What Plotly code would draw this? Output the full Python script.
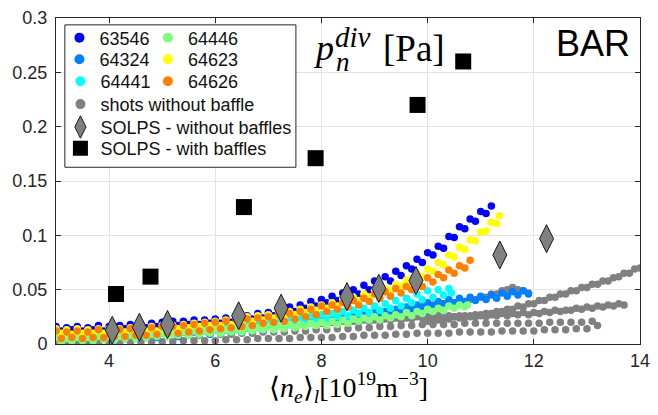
import plotly.graph_objects as go

# ------------------------------------------------------------------
# Data  (x = <n_e>_l [1e19 m^-3], y = p_n^div [Pa])
# ------------------------------------------------------------------
SHOT_NAMES = ["63546", "64324", "64441", "64446", "64623", "64626"]

P63546 = [(3.0,.016),(3.1,.012),(3.2,.015),(3.3,.013),(3.4,.016),(3.5,.012),(3.6,.015),(3.7,.013),(3.8,.017),(3.9,.012),
          (4.0,.016),(4.1,.013),(4.2,.017),(4.3,.014),(4.4,.018),(4.5,.014),(4.6,.018),(4.7,.015),(4.8,.019),(4.9,.016),
          (5.0,.020),(5.1,.016),(5.2,.021),(5.3,.017),(5.4,.021),(5.5,.018),(5.6,.022),(5.7,.018),(5.8,.022),(5.9,.019),
          (6.0,.023),(6.1,.019),(6.2,.024),(6.3,.020),(6.4,.025),(6.5,.021),(6.6,.026),(6.7,.023),(6.8,.028),(6.9,.024),
          (7.0,.029),(7.1,.026),(7.2,.031),(7.3,.028),(7.4,.034),(7.5,.030),(7.6,.036),(7.7,.033),(7.8,.039),(7.9,.035),
          (8.0,.041),(8.1,.038),(8.2,.044),(8.3,.040),(8.4,.047),(8.5,.043),(8.6,.050),(8.7,.046),(8.8,.054),(8.9,.050),
          (9.0,.058),(9.1,.054),(9.2,.062),(9.3,.058),(9.4,.067),(9.5,.063),(9.6,.072),(9.7,.069),(9.8,.078),(9.9,.075),
          (10.0,.084),(10.1,.082),(10.2,.090),(10.3,.088),(10.4,.099),(10.5,.098),(10.6,.108),(10.7,.106),(10.8,.115),(10.9,.113),
          (11.0,.122),(11.1,.120),(11.2,.127)]

P64324 = [(4.0,.007),(4.1,.004),(4.2,.007),(4.3,.005),(4.4,.008),(4.5,.005),(4.6,.008),(4.7,.006),(4.8,.009),(4.9,.006),
          (5.0,.010),(5.1,.007),(5.2,.010),(5.3,.007),(5.4,.011),(5.5,.008),(5.6,.011),(5.7,.009),(5.8,.012),(5.9,.009),
          (6.0,.013),(6.1,.010),(6.2,.013),(6.3,.011),(6.4,.014),(6.5,.011),(6.6,.015),(6.7,.012),(6.8,.016),(6.9,.013),
          (7.0,.017),(7.1,.014),(7.2,.017),(7.3,.015),(7.4,.018),(7.5,.016),(7.6,.019),(7.7,.017),(7.8,.021),(7.9,.018),
          (8.0,.022),(8.1,.019),(8.2,.023),(8.3,.020),(8.4,.024),(8.5,.022),(8.6,.026),(8.7,.023),(8.8,.027),(8.9,.025),
          (9.0,.029),(9.1,.026),(9.2,.030),(9.3,.028),(9.4,.032),(9.5,.030),(9.6,.034),(9.7,.032),(9.8,.036),(9.9,.034),
          (10.0,.038),(10.1,.035),(10.2,.039),(10.3,.037),(10.4,.041),(10.5,.038),(10.6,.042),(10.7,.039),(10.8,.043),(10.9,.040),
          (11.0,.044),(11.1,.041),(11.2,.045),(11.3,.042),(11.4,.047),(11.5,.044),(11.6,.048),(11.7,.045),(11.8,.049),(11.9,.046)]

P64441 = [(3.0,.009),(3.1,.005),(3.2,.008),(3.3,.005),(3.4,.009),(3.5,.006),(3.6,.009),(3.7,.006),(3.8,.010),(3.9,.006),
          (4.0,.010),(4.1,.007),(4.2,.010),(4.3,.007),(4.4,.011),(4.5,.007),(4.6,.011),(4.7,.008),(4.8,.012),(4.9,.008),
          (5.0,.012),(5.1,.009),(5.2,.013),(5.3,.009),(5.4,.013),(5.5,.010),(5.6,.014),(5.7,.011),(5.8,.015),(5.9,.011),
          (6.0,.015),(6.1,.012),(6.2,.016),(6.3,.013),(6.4,.017),(6.5,.013),(6.6,.018),(6.7,.014),(6.8,.019),(6.9,.016),
          (7.0,.020),(7.1,.017),(7.2,.021),(7.3,.018),(7.4,.023),(7.5,.019),(7.6,.024),(7.7,.021),(7.8,.026),(7.9,.022),
          (8.0,.027),(8.1,.023),(8.2,.028),(8.3,.025),(8.4,.030),(8.5,.026),(8.6,.031),(8.7,.028),(8.8,.033),(8.9,.029),
          (9.0,.035),(9.1,.031),(9.2,.037),(9.3,.033),(9.4,.040),(9.5,.035),(9.6,.042),(9.7,.038),(9.8,.046),(9.9,.041),
          (10.0,.049),(10.1,.043),(10.2,.050),(10.3,.045),(10.4,.051),(10.45,.047)]

P64446 = [(3.0,.006),(3.1,.002),(3.2,.005),(3.3,.003),(3.4,.006),(3.5,.003),(3.6,.006),(3.7,.003),(3.8,.007),(3.9,.004),
          (4.0,.007),(4.1,.004),(4.2,.007),(4.3,.005),(4.4,.008),(4.5,.005),(4.6,.009),(4.7,.006),(4.8,.009),(4.9,.007),
          (5.0,.010),(5.1,.007),(5.2,.010),(5.3,.008),(5.4,.011),(5.5,.008),(5.6,.012),(5.7,.009),(5.8,.012),(5.9,.010),
          (6.0,.013),(6.1,.010),(6.2,.013),(6.3,.011),(6.4,.014),(6.5,.011),(6.6,.015),(6.7,.012),(6.8,.015),(6.9,.013),
          (7.0,.016),(7.1,.013),(7.2,.017),(7.3,.014),(7.4,.018),(7.5,.015),(7.6,.018),(7.7,.016),(7.8,.019),(7.9,.017),
          (8.0,.020),(8.1,.017),(8.2,.021),(8.3,.018),(8.4,.022),(8.5,.019),(8.6,.023),(8.7,.021),(8.8,.024),(8.9,.022),
          (9.0,.025),(9.1,.022),(9.2,.026),(9.3,.024),(9.4,.027),(9.5,.025),(9.6,.029),(9.7,.026),(9.8,.030),(9.9,.028),
          (10.0,.032),(10.1,.030),(10.2,.033),(10.3,.031),(10.4,.035),(10.5,.033),(10.6,.036),(10.7,.034),(10.75,.036)]

P64623 = [(3.0,.014),(3.1,.010),(3.2,.013),(3.3,.009),(3.4,.014),(3.5,.010),(3.6,.013),(3.7,.010),(3.8,.014),(3.9,.010),
          (4.0,.014),(4.1,.010),(4.2,.014),(4.3,.011),(4.4,.015),(4.5,.011),(4.6,.015),(4.7,.012),(4.8,.016),(4.9,.012),
          (5.0,.017),(5.1,.013),(5.2,.017),(5.3,.014),(5.4,.018),(5.5,.015),(5.6,.019),(5.7,.016),(5.8,.020),(5.9,.017),
          (6.0,.021),(6.1,.017),(6.2,.022),(6.3,.018),(6.4,.023),(6.5,.020),(6.6,.025),(6.7,.021),(6.8,.026),(6.9,.022),
          (7.0,.027),(7.1,.024),(7.2,.029),(7.3,.025),(7.4,.030),(7.5,.027),(7.6,.032),(7.7,.029),(7.8,.034),(7.9,.031),
          (8.0,.036),(8.1,.033),(8.2,.038),(8.3,.035),(8.4,.041),(8.5,.038),(8.6,.043),(8.7,.040),(8.8,.046),(8.9,.043),
          (9.0,.049),(9.1,.046),(9.2,.051),(9.3,.049),(9.4,.055),(9.5,.053),(9.6,.059),(9.7,.057),(9.8,.064),(9.9,.062),
          (10.0,.069),(10.1,.067),(10.2,.075),(10.3,.073),(10.4,.082),(10.5,.080),(10.6,.089),(10.7,.087),(10.8,.096),(10.9,.095),
          (11.0,.103),(11.1,.104),(11.2,.112),(11.3,.111),(11.35,.118)]

P64626 = [(3.0,.012),(3.1,.005),(3.2,.011),(3.3,.006),(3.4,.012),(3.5,.005),(3.6,.011),(3.7,.006),(3.8,.013),(3.9,.006),
          (4.0,.013),(4.1,.007),(4.2,.013),(4.3,.007),(4.4,.014),(4.5,.008),(4.6,.014),(4.7,.008),(4.8,.015),(4.9,.009),
          (5.0,.016),(5.1,.010),(5.2,.016),(5.3,.010),(5.4,.017),(5.5,.011),(5.6,.018),(5.7,.012),(5.8,.019),(5.9,.013),
          (6.0,.020),(6.1,.014),(6.2,.021),(6.3,.015),(6.4,.022),(6.5,.016),(6.6,.023),(6.7,.017),(6.8,.024),(6.9,.019),
          (7.0,.025),(7.1,.020),(7.2,.027),(7.3,.021),(7.4,.028),(7.5,.023),(7.6,.030),(7.7,.025),(7.8,.032),(7.9,.027),
          (8.0,.035),(8.1,.030),(8.2,.036),(8.3,.032),(8.4,.038),(8.5,.034),(8.6,.040),(8.7,.036),(8.8,.042),(8.9,.039),
          (9.0,.046),(9.1,.042),(9.2,.048),(9.3,.044),(9.4,.051),(9.5,.047),(9.6,.053),(9.7,.050),(9.8,.057),(9.9,.053),
          (10.0,.061),(10.1,.057),(10.2,.064),(10.3,.061),(10.4,.068),(10.5,.065),(10.6,.072),(10.7,.070),(10.8,.077)]

# shots without baffle (several grey shots)
GRAY_LOW = [(3.0,.000),(3.1,.004),(3.2,.000),(3.3,.004),(3.4,.001),(3.5,.004),(3.6,.001),(3.7,.005),(3.8,.001),(3.9,.005),
            (4.0,.001),(4.1,.005),(4.2,.001),(4.3,.005),(4.4,.002),(4.5,.006),(4.6,.002),(4.7,.006),(4.8,.002),(4.9,.007),
            (5.0,.002),(5.1,.007),(5.2,.002),(5.3,.007),(5.4,.003),(5.5,.008),(5.6,.003),(5.7,.008),(5.8,.003),(5.9,.009),
            (6.0,.003),(6.1,.009),(6.2,.004),(6.3,.009),(6.4,.004),(6.5,.010),(6.6,.004),(6.7,.010),(6.8,.005),(6.9,.011),
            (7.0,.005),(7.1,.011),(7.2,.005),(7.3,.011),(7.4,.005),(7.5,.012),(7.6,.006),(7.7,.012),(7.8,.006),(7.9,.013),
            (8.0,.006),(8.1,.013),(8.2,.006),(8.3,.014),(8.4,.007),(8.5,.014),(8.6,.007),(8.7,.015),(8.8,.008),(8.9,.015),
            (9.0,.008),(9.1,.016),(9.2,.008),(9.3,.016),(9.4,.009),(9.5,.017),(9.6,.009),(9.7,.017),(9.8,.010),(9.9,.018),
            (10.0,.010),(10.1,.018),(10.2,.010),(10.3,.018),(10.4,.010),(10.5,.018),(10.6,.011),(10.7,.019),(10.8,.011),(10.9,.019),
            (11.0,.011),(11.1,.019),(11.2,.011),(11.3,.019),(11.4,.012),(11.5,.019),(11.6,.012),(11.7,.019),(11.8,.012),(11.9,.019),
            (12.0,.012),(12.1,.019),(12.2,.013),(12.3,.020),(12.4,.013),(12.5,.020),(12.6,.013),(12.7,.020),(12.8,.014),(12.9,.020),
            (13.0,.014),(13.1,.021),(13.2,.017)]

GRAY_MID = [(3.0,.006),(3.1,.005),(3.2,.007),(3.3,.005),(3.4,.007),(3.5,.006),(3.6,.007),(3.7,.006),(3.8,.008),(3.9,.006),
            (4.0,.008),(4.1,.007),(4.2,.008),(4.3,.007),(4.4,.009),(4.5,.008),(4.6,.009),(4.7,.008),(4.8,.010),(4.9,.008),
            (5.0,.010),(5.1,.009),(5.2,.011),(5.3,.010),(5.4,.011),(5.5,.010),(5.6,.012),(5.7,.011),(5.8,.013),(5.9,.011),
            (6.0,.013),(6.1,.012),(6.2,.014),(6.3,.012),(6.4,.014),(6.5,.013),(6.6,.015),(6.7,.014),(6.8,.016),(6.9,.014),
            (7.0,.016),(7.1,.015),(7.2,.017),(7.3,.016),(7.4,.018),(7.5,.016),(7.6,.018),(7.7,.017),(7.8,.019),(7.9,.018),
            (8.0,.019),(8.1,.018),(8.2,.020),(8.3,.019),(8.4,.021),(8.5,.019),(8.6,.021),(8.7,.020),(8.8,.022),(8.9,.021),
            (9.0,.022),(9.1,.021),(9.2,.023),(9.3,.022),(9.4,.024),(9.5,.022),(9.6,.024),(9.7,.023),(9.8,.025),(9.9,.024),
            (10.0,.025),(10.1,.024),(10.2,.026),(10.3,.024),(10.4,.026),(10.5,.025),(10.6,.026),(10.7,.025),(10.8,.026),(10.9,.025),
            (11.0,.027),(11.1,.025),(11.2,.027),(11.3,.026),(11.4,.028),(11.5,.026),(11.6,.028),(11.7,.027),(11.8,.029),(11.9,.027),
            (12.0,.029),(12.1,.028),(12.2,.030),(12.3,.029),(12.4,.031),(12.5,.030),(12.6,.031),(12.7,.031),(12.8,.033),(12.9,.032),
            (13.0,.034),(13.1,.033),(13.2,.035),(13.3,.034),(13.4,.036),(13.5,.035),(13.6,.037),(13.7,.036)]

GRAY_TOP = [(10.0,.021),(10.1,.023),(10.2,.022),(10.3,.024),(10.4,.023),(10.5,.025),(10.6,.024),(10.7,.026),(10.8,.025),(10.9,.027),
            (11.0,.026),(11.1,.028),(11.2,.028),(11.3,.030),(11.4,.030),(11.5,.032),(11.6,.032),(11.7,.035),(11.8,.034),(11.9,.037),
            (12.0,.037),(12.1,.040),(12.2,.040),(12.3,.043),(12.4,.043),(12.5,.046),(12.6,.046),(12.7,.049),(12.8,.049),(12.9,.052),
            (13.0,.052),(13.1,.055),(13.2,.055),(13.3,.058),(13.4,.058),(13.5,.061),(13.6,.062),(13.7,.065),(13.8,.065),(13.9,.069),
            (14.0,.070)]

GRAY_SHORT = [(9.0,.027),(9.1,.026),(9.2,.029),(9.3,.028),(9.4,.031),(9.5,.030),(9.6,.033),(9.7,.032),(9.8,.035),(9.9,.034),
              (10.0,.037),(10.1,.036),(10.2,.038),(10.3,.037),(10.4,.039),(10.5,.038),(10.6,.040),(10.7,.039),(10.8,.041),(10.9,.041),
              (11.0,.043),(11.1,.043),(11.2,.046),(11.3,.046),(11.4,.049),(11.5,.050),(11.6,.052),(11.7,.050),(11.8,.049),(11.9,.047)]

# SOLPS simulations
SOLPS_NO_BAFFLE_X = [4.06, 4.57, 5.10, 6.44, 7.24, 8.48, 9.08, 9.78, 11.36, 12.24]
SOLPS_NO_BAFFLE_Y = [0.0126, 0.0154, 0.0180, 0.0260, 0.0330, 0.0436, 0.0512, 0.0584, 0.0819, 0.0969]
SOLPS_BAFFLE_X = [4.13, 4.78, 6.54, 7.89, 9.81, 10.67]
SOLPS_BAFFLE_Y = [0.046, 0.062, 0.126, 0.171, 0.220, 0.260]

X_TICKS = [4, 6, 8, 10, 12, 14]
Y_TICKS = [0, 0.05, 0.1, 0.15, 0.2, 0.25, 0.3]
Y_TICK_TEXT = ["0", "0.05", "0.1", "0.15", "0.2", "0.25", "0.3"]

# ------------------------------------------------------------------
# Styling
# ------------------------------------------------------------------
SHOT_COLORS = ["#0000FF", "#0080FF", "#00FFFF", "#80FF80", "#FFFF00", "#FF8000"]
GRAY = "#808080"
AXC = "#262626"
SERIF = "Liberation Serif, Times New Roman, serif"
SANS = "Liberation Sans, Arial, sans-serif"
DOT = 7.5
W, H = 658, 415
ML, MR, MT, MB = 56, 8, 12, 71
PW, PH = W - ML - MR, H - MT - MB


def pxx(px):
    return (px - ML) / PW


def pxy(py):
    return 1 - (py - MT) / PH


def xy(pairs):
    return [p[0] for p in pairs], [p[1] for p in pairs]


fig = go.Figure()

gray_pairs = GRAY_LOW + GRAY_MID + GRAY_TOP + GRAY_SHORT
gx, gy = xy(gray_pairs)
fig.add_trace(go.Scatter(x=gx, y=gy, mode="markers", showlegend=False, name="shots without baffle",
                         marker=dict(size=DOT, color=GRAY, line=dict(width=0))))

shot_data = [P63546, P64324, P64441, P64446, P64623, P64626]
for name, col, pairs in zip(SHOT_NAMES, SHOT_COLORS, shot_data):
    sx, sy = xy(pairs)
    fig.add_trace(go.Scatter(x=sx, y=sy, mode="markers", name=name, showlegend=False,
                             marker=dict(size=DOT, color=col, line=dict(width=0))))

fig.add_trace(go.Scatter(x=SOLPS_NO_BAFFLE_X, y=SOLPS_NO_BAFFLE_Y, mode="markers", showlegend=False,
                         name="SOLPS - without baffles",
                         marker=dict(symbol="diamond-tall", size=20, color=GRAY,
                                     line=dict(width=1, color="#1a1a1a"))))
fig.add_trace(go.Scatter(x=SOLPS_BAFFLE_X, y=SOLPS_BAFFLE_Y, mode="markers", showlegend=False,
                         name="SOLPS - with baffles",
                         marker=dict(symbol="square", size=16, color="black", line=dict(width=0))))

# ---- legend entries (one small legend per row, inside a drawn box) ----
legend_rows = [
    (SHOT_NAMES[0], SHOT_COLORS[0], "circle", 10, 59.5, 32.3, None),
    (SHOT_NAMES[1], SHOT_COLORS[1], "circle", 10, 59.5, 54.3, None),
    (SHOT_NAMES[2], SHOT_COLORS[2], "circle", 10, 60.5, 76.7, None),
    (SHOT_NAMES[3], SHOT_COLORS[3], "circle", 10, 149.5, 32.3, None),
    (SHOT_NAMES[4], SHOT_COLORS[4], "circle", 10, 149.5, 54.3, None),
    (SHOT_NAMES[5], SHOT_COLORS[5], "circle", 10, 149.5, 76.7, None),
    ("shots without baffle", GRAY, "circle", 10, 60.5, 100.0, None),
    ("SOLPS - without baffles", GRAY, "diamond-tall", 16, 60.5, 123.3, "#1a1a1a"),
    ("SOLPS - with baffles", "black", "square", 15, 60.5, 145.0, None),
]
legends = {}
for i, (lab, col, sym, sz, lx, ly, lc) in enumerate(legend_rows):
    key = "legend" if i == 0 else f"legend{i+1}"
    mk = dict(symbol=sym, size=sz, color=col)
    mk["line"] = dict(width=1, color=lc) if lc else dict(width=0)
    fig.add_trace(go.Scatter(x=[None], y=[None], mode="markers", name=lab, legend=key,
                             showlegend=True, marker=mk))
    legends[key] = dict(x=pxx(lx), y=pxy(ly), xanchor="left", yanchor="middle",
                        bgcolor="rgba(0,0,0,0)", borderwidth=0,
                        font=dict(family=SANS, size=18, color="#111111"))

fig.update_layout(**legends)

fig.add_shape(type="rect", xref="paper", yref="paper",
              x0=pxx(65), x1=pxx(300), y0=pxy(164), y1=pxy(19),
              fillcolor="white", line=dict(color=AXC, width=1), layer="above")

# ---- text ----
def note(text, px, py, xa, size, family, ya="middle"):
    fig.add_annotation(xref="paper", yref="paper", x=pxx(px), y=pxy(py), xanchor=xa, yanchor=ya,
                       text=text, showarrow=False, borderpad=0,
                       font=dict(family=family, size=size, color="black"))


note("<i>p</i>", 340, 43, "right", 36, SERIF)
note("<i>div</i>", 339, 31, "left", 29, SERIF)
note("<i>n</i>", 340, 57, "left", 27, SERIF)
note("[Pa]", 388, 43, "left", 37, SERIF)
note("BAR", 641, 38, "right", 36, SANS)
note("⟨<i>n</i><sub><i>e</i></sub>⟩<sub><i>l</i></sub>[10<sup>19</sup>m<sup>−3</sup>]", 354, 388, "center", 28, SERIF)

axis_common = dict(showline=True, linecolor=AXC, linewidth=1, mirror="ticks", ticks="inside",
                   ticklen=5, tickcolor=AXC, tickwidth=1, showgrid=True, gridcolor="#E3E3E3", gridwidth=1,
                   zeroline=False, ticklabeloverflow="allow",
                   tickfont=dict(family=SANS, size=18, color=AXC))

fig.update_xaxes(range=[3, 14], tickvals=X_TICKS, ticktext=[str(v) for v in X_TICKS], **axis_common)
fig.update_yaxes(range=[0, 0.3], tickvals=Y_TICKS, ticktext=Y_TICK_TEXT, ticklabelstandoff=4, **axis_common)

fig.update_layout(width=W, height=H, margin=dict(l=ML, r=MR, t=MT, b=MB),
                  paper_bgcolor="white", plot_bgcolor="white")

fig.write_html("out.html")
